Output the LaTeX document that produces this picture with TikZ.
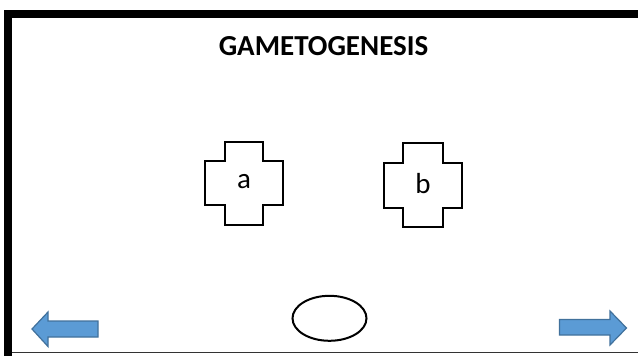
\documentclass[tikz,border=0pt]{standalone}
\usepackage{fontspec}
\setmainfont{Carlito}
\usetikzlibrary{shapes.geometric}
\definecolor{arrowfill}{HTML}{5B9BD5}
\definecolor{arrowline}{HTML}{41719C}
\tikzset{
  crossline/.style={draw=black, line width=2pt, fill=white},
  navarrow/.style={fill=arrowfill, draw=arrowline, line width=1.2pt, line join=miter},
  lbl/.style={font=\fontsize{29}{32}\selectfont, inner sep=0pt},
}
\begin{document}
\begin{tikzpicture}[x=1pt, y=-1pt]
\useasboundingbox (0,0) rectangle (638,356);
\fill[white] (0,0) rectangle (638,356);
% frame
\draw[line width=8pt] (8,356) -- (8,14) -- (638,14);
\draw[line width=1.5pt, black!80] (12,352.5) -- (638,352.5);
% title
\node[font=\bfseries\fontsize{29}{32}\selectfont, anchor=base, inner sep=0pt] (title) at (323.5,56) {GAMETOGENESIS};
% cross a
\draw[crossline] (225,142) -- (263,142) -- (263,161) -- (283,161) -- (283,205) -- (263,205) -- (263,225) -- (225,225) -- (225,205) -- (205,205) -- (205,161) -- (225,161) -- cycle;
\node[lbl] (a) at (244,182) {a};
% cross b
\draw[crossline] (403,143) -- (443,143) -- (443,163) -- (462,163) -- (462,208) -- (443,208) -- (443,227) -- (403,227) -- (403,208) -- (384,208) -- (384,163) -- (403,163) -- cycle;
\node[lbl] (b) at (423,184) {b};
% ellipse
\node[draw, line width=2pt, ellipse, minimum width=74pt, minimum height=45pt, inner sep=0pt] (oval) at (329.5,318.3) {};
% left arrow
\draw[navarrow] (32,329) -- (48,312) -- (48,321) -- (98,321) -- (98,337) -- (48,337) -- (48,346.5) -- cycle;
% right arrow
\draw[navarrow] (626.5,328) -- (610,311) -- (610,319.5) -- (559.5,319.5) -- (559.5,335) -- (610,335) -- (610,345) -- cycle;
\end{tikzpicture}
\end{document}
